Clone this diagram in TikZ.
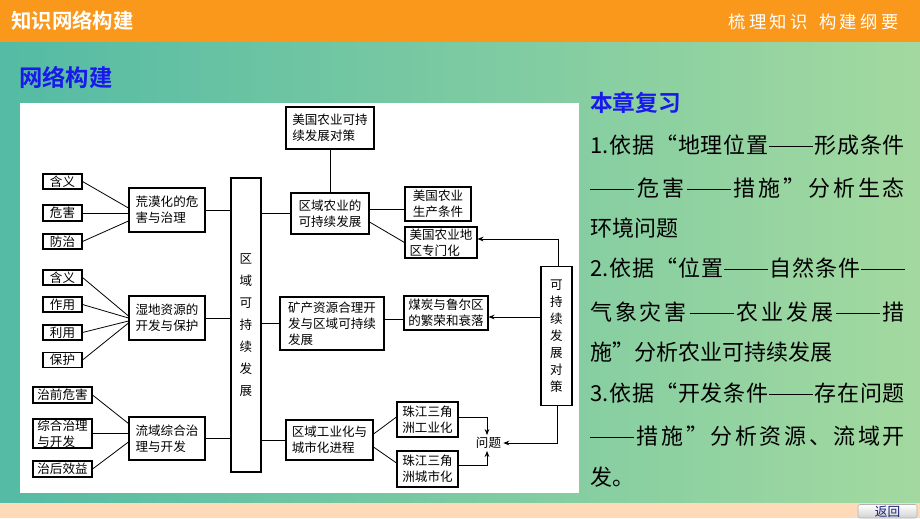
\documentclass[tikz,border=0pt]{standalone}
\usepackage{fontspec}
\usetikzlibrary{arrows.meta,calc}
\newfontfamily\cjk{Noto Sans CJK SC}[BoldFont={Noto Sans CJK SC Bold}]
\definecolor{hdr}{RGB}{250,152,28}
\definecolor{bgL}{RGB}{84,187,164}
\definecolor{bgR}{RGB}{163,217,160}
\definecolor{ttl}{RGB}{25,25,235}
\definecolor{peach}{RGB}{255,218,185}
\definecolor{btnTxt}{RGB}{20,30,120}
\newcommand\dfont{\cjk\fontsize{9.4pt}{12pt}\selectfont}
\newcommand\rfont{\cjk\fontsize{16.5pt}{20pt}\selectfont}
\newcommand\dd{\rule[0.3em]{2em}{0.05em}}
\newcommand\Na{1.}
\newcommand\Nb{2.}
\newcommand\Nc{3.}
\def\sprI#1#2\relax{#1\ifx\relax#2\relax\else\hfill\expandafter\sprI\fi#2\relax}
\newcommand\spr[1]{\makebox[236pt][s]{\sprI#1\relax}}
\newcommand\sprw[2]{\makebox[#1][s]{\sprI#2\relax}}
\begin{document}
\begin{tikzpicture}[x=0.75pt,y=-0.75pt,
  bx/.style 2 args={draw, line width=0.8pt, fill=white, minimum width=#1*0.75pt, minimum height=#2*0.75pt, inner sep=0pt, align=left, font=\dfont},
  ln/.style={line width=0.6pt},
  ar/.style={line width=0.6pt,-{Stealth[length=4.5pt,width=3.5pt]}},
  rl/.style={anchor=west, inner sep=0pt, font=\rfont}]
\useasboundingbox (0,0) rectangle (920,518);
% background
\shade[left color=bgL, right color=bgR] (0,42) rectangle (920,503);
\fill[hdr] (0,0) rectangle (920,42);
\fill[peach] (0,503) rectangle (920,518);
\node[anchor=west, inner sep=0pt, text=white, font=\cjk\bfseries\fontsize{15.3pt}{18pt}\selectfont] (hdrL) at (11,21) {知识网络构建};
\node[anchor=west, inner sep=0pt, text=white, font=\cjk\fontsize{13pt}{16pt}\selectfont] (hdrR) at (728,22) {\sprw{128pt}{梳理知识{\ }构建纲要}};
\node[anchor=west, inner sep=0pt, text=ttl, font=\cjk\bfseries\fontsize{17.5pt}{20pt}\selectfont] (net) at (19,77) {网络构建};
% button
\shade[top color=white, bottom color=black!18, rounded corners=1.5pt, draw=black!30] (858,504.5) rectangle (917,518);
\node[inner sep=0pt, text=btnTxt, font=\cjk\fontsize{9.5pt}{11pt}\selectfont] (back) at (887.5,511.5) {返回};
% white panel
\fill[white] (20,103) rectangle (579,493);
% left column
\node[bx={39}{15}] (a1) at (62.5,181.5) {含义};
\node[bx={39}{16}] (a2) at (62.5,213) {危害};
\node[bx={39}{15}] (a3) at (62.5,241.5) {防治};
\node[bx={76}{44}] (A) at (167,210) {荒漠化的危\\害与治理};
\node[bx={39}{15}] (b1) at (62.5,277.5) {含义};
\node[bx={39}{15}] (b2) at (62.5,304.5) {作用};
\node[bx={39}{15}] (b3) at (62.5,332.5) {利用};
\node[bx={39}{15}] (b4) at (62.5,360) {保护};
\node[bx={76}{44}] (B) at (167,318) {湿地资源的\\开发与保护};
\node[bx={59}{16}] (c1) at (62.5,395) {治前危害};
\node[bx={59}{29}] (c2) at (62.5,433.5) {综合治理\\与开发};
\node[bx={59}{16}] (c3) at (62.5,469) {治后效益};
\node[bx={76}{43}] (C) at (167,438.5) {流域综合治\\理与开发};
% central vertical
\node[bx={30}{294}, align=center, font=\cjk\fontsize{9.4pt}{16.5pt}\selectfont] (V) at (246,325) {区\\域\\可\\持\\续\\发\\展};
% right part
\node[bx={88}{42}] (D0) at (330,128) {美国农业可持\\续发展对策};
\node[bx={78}{41}] (D) at (330,213.5) {区域农业的\\可持续发展};
\node[bx={66}{34}, align=center] (d1) at (438,204) {美国农业\\生产条件};
\node[bx={72}{31}] (d2) at (441,242.5) {美国农业地\\区专门化};
\node[bx={104}{53}] (E) at (332,323.5) {矿产资源合理开\\发与区域可持续\\发展};
\node[bx={84}{34}] (e1) at (446,313) {煤炭与鲁尔区\\的繁荣和衰落};
\node[bx={87}{40}] (F) at (329.5,440) {区域工业化与\\城市化进程};
\node[bx={61}{35}] (f1) at (427.5,419.5) {珠江三角\\洲工业化};
\node[bx={61}{36}] (f2) at (427.5,469) {珠江三角\\洲城市化};
\node[inner sep=1.5pt, font=\dfont] (Q) at (488.5,443) {问题};
\node[bx={31}{139}, align=center, font=\cjk\fontsize{9.4pt}{12.8pt}\selectfont] (S) at (556.5,336) {可\\持\\续\\发\\展\\对\\策};
% connectors left
\draw[ln] (a1.east) -- ($(A.west)+(0,-2)$);
\draw[ln] (a2.east) -- ($(A.west)+(0,3)$);
\draw[ln] (a3.east) -- ($(A.west)+(0,11)$);
\draw[ln] (A.east) -- (A.east -| V.west);
\draw[ln] (b1.east) -- ($(B.west)+(0,-2)$);
\draw[ln] (b2.east) -- ($(B.west)+(0,0)$);
\draw[ln] (b3.east) -- ($(B.west)+(0,3)$);
\draw[ln] (b4.east) -- ($(B.west)+(0,5)$);
\draw[ln] (B.east) -- (B.east -| V.west);
\draw[ln] (c1.east) -- ($(C.west)+(0,-15)$);
\draw[ln] (c2.east) -- (c2.east -| C.west);
\draw[ln] (c3.east) -- ($(C.west)+(0,3.5)$);
\draw[ln] (C.east) -- (C.east -| V.west);
% connectors right
\draw[ln] (D.west -| V.east) -- (D.west);
\draw[ln] (E.west -| V.east) -- (E.west);
\draw[ln] (F.west -| V.east) -- (F.west);
\draw[ln] (D0.south) -- (D0.south |- D.north);
\coordinate (dA) at ($(D.east)+(0,-4.5)$);
\draw[ln] (dA) -- (dA -| d1.west);
\draw[ln] ($(D.east)+(0,8.5)$) -- (d2.west);
\coordinate (eA) at ($(E.east)+(0,-4.5)$);
\draw[ln] (eA) -- (eA -| e1.west);
\draw[ln] ($(F.east)+(0,-6)$) -- ($(f1.west)+(0,-2.5)$);
\draw[ln] ($(F.east)+(0,7)$) -- ($(f2.west)+(0,-6)$);
% arrows
\coordinate (sE) at ($(e1.east)+(0,4)$);
\draw[ar] (sE -| S.west) -- (sE);
\coordinate (sD) at ($(d2.east)+(0,-3.5)$);
\draw[ar] ($(S.north)+(1.5,0)$) |- (sD);
\draw[ar] ($(S.south)+(0.5,0)$) |- (Q.east);
\draw[ar] ($(f1.east)+(0,-2.5)$) -| ($(Q.north)+(-1.5,0)$);
\draw[ar] ($(f2.east)+(0,-4)$) -| ($(Q.south)+(-1.5,0)$);
% right text
\node[anchor=west, inner sep=0pt, text=ttl, font=\cjk\bfseries\fontsize{17pt}{20pt}\selectfont] (rv) at (590,103) {本章复习};
\node[rl] (r1) at (590,145) {\spr{\Na 依据“地理位置\dd 形成条件}};
\node[rl] (r2) at (590,188) {\spr{\dd 危害\dd 措施”分析生态}};
\node[rl] (r3) at (590,228) {环境问题};
\node[rl] (r4) at (590,268) {\spr{\Nb 依据“位置\dd 自然条件\dd}};
\node[rl] (r5) at (590,312) {\spr{气象灾害\dd 农业发展\dd 措}};
\node[rl] (r6) at (590,352) {施”分析农业可持续发展};
\node[rl] (r7) at (590,393) {\spr{\Nc 依据“开发条件\dd 存在问题}};
\node[rl] (r8) at (590,436) {\spr{\dd 措施”分析资源、流域开}};
\node[rl] (r9) at (590,477) {发。};
\end{tikzpicture}
\end{document}
